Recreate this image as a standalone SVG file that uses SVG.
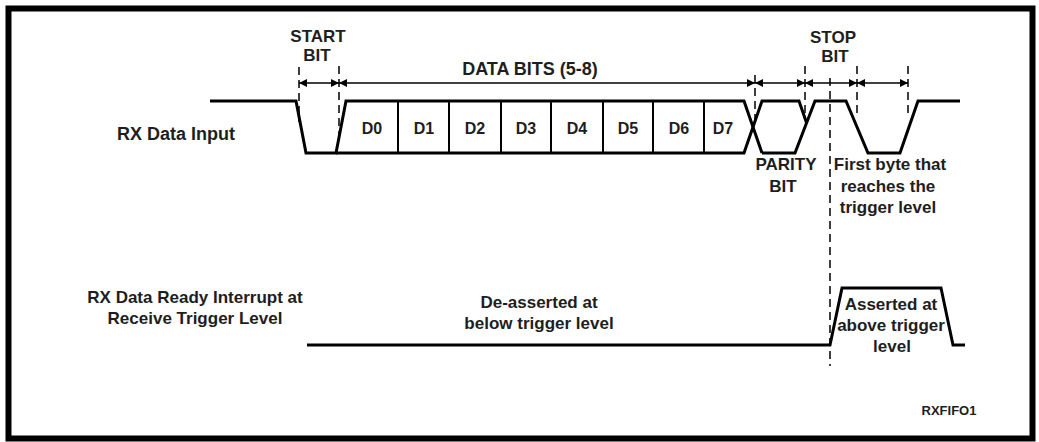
<svg xmlns="http://www.w3.org/2000/svg" width="1039" height="442" viewBox="0 0 1039 442">
<style>
text{font-family:"Liberation Sans",Arial,sans-serif;font-weight:bold;fill:#1e1e1e;font-size:17px}
.m{text-anchor:middle}
.sig{fill:none;stroke:#000;stroke-width:3;stroke-linejoin:miter}
.div{stroke:#000;stroke-width:2}
.dim{stroke:#000;stroke-width:1.5;fill:none}
.ext{stroke:#000;stroke-width:1.5;stroke-dasharray:8,5;fill:none}
</style>
<defs>
<marker id="ah" viewBox="0 0 10 10" refX="10" refY="5" markerWidth="9" markerHeight="8" markerUnits="userSpaceOnUse" orient="auto-start-reverse">
<path d="M0,0 L10,5 L0,10 Z" fill="#000"/>
</marker>
</defs>
<rect x="8.5" y="8.5" width="1024" height="430" fill="#fff" stroke="#000" stroke-width="6"/>

<g id="labels">
<text x="117" y="140" style="font-size:18px">RX Data Input</text>
<text class="m" x="195" y="303">RX Data Ready Interrupt at</text>
<text class="m" x="195" y="324">Receive Trigger Level</text>
</g>

<g id="rx-data">
<path class="sig" d="M210,101 H296 L306,153 H336 L346,101 H744 L762,153"/>
<path class="sig" d="M336,153 H744 L762,101 H799 L806.6,123"/>
<path class="sig" d="M762,153 H795 L815,101 H846 L868,153 H900 L918,101 H960"/>
<line class="div" x1="398" y1="101" x2="398" y2="153"/>
<line class="div" x1="449" y1="101" x2="449" y2="153"/>
<line class="div" x1="501" y1="101" x2="501" y2="153"/>
<line class="div" x1="551" y1="101" x2="551" y2="153"/>
<line class="div" x1="603" y1="101" x2="603" y2="153"/>
<line class="div" x1="653" y1="101" x2="653" y2="153"/>
<line class="div" x1="704" y1="101" x2="704" y2="153"/>
<text class="m" x="372" y="134" style="font-size:16px">D0</text>
<text class="m" x="424" y="134" style="font-size:16px">D1</text>
<text class="m" x="475" y="134" style="font-size:16px">D2</text>
<text class="m" x="526" y="134" style="font-size:16px">D3</text>
<text class="m" x="577" y="134" style="font-size:16px">D4</text>
<text class="m" x="628" y="134" style="font-size:16px">D5</text>
<text class="m" x="679" y="134" style="font-size:16px">D6</text>
<text class="m" x="723" y="134" style="font-size:16px">D7</text>
</g>

<g id="interrupt">
<path class="sig" d="M307,345 H830 L842,288 H941 L953,345 H965"/>
<text class="m" x="539" y="308">De-asserted at</text>
<text class="m" x="539" y="329">below trigger level</text>
<text class="m" x="891" y="310">Asserted at</text>
<text class="m" x="891" y="331">above trigger</text>
<text class="m" x="892" y="352">level</text>
</g>

<g id="bit-labels">
<text class="m" x="318" y="42">START</text>
<text class="m" x="317" y="61">BIT</text>
<text class="m" x="530" y="75" style="font-size:18px">DATA BITS (5-8)</text>
<text class="m" x="833" y="43">STOP</text>
<text class="m" x="835" y="62">BIT</text>
<text class="m" x="786" y="170">PARITY</text>
<text class="m" x="783" y="192">BIT</text>
<text class="m" x="890" y="170">First byte that</text>
<text class="m" x="888" y="192">reaches the</text>
<text class="m" x="888" y="213">trigger level</text>
<text class="m" x="949" y="415" style="font-size:13px">RXFIFO1</text>
</g>

<g id="connectors">
<line class="ext" x1="299" y1="67" x2="299" y2="122"/>
<line class="ext" x1="339" y1="66" x2="339" y2="142"/>
<line class="ext" x1="755" y1="75" x2="755" y2="122"/>
<line class="ext" x1="805" y1="66" x2="805" y2="116"/>
<line class="ext" x1="857" y1="66" x2="857" y2="118"/>
<line class="ext" x1="908" y1="66" x2="908" y2="114"/>
<line class="ext" x1="830" y1="78" x2="830" y2="366"/>
<line class="dim" x1="299" y1="83" x2="339" y2="83" marker-start="url(#ah)" marker-end="url(#ah)"/>
<line class="dim" x1="339" y1="83" x2="755" y2="83" marker-start="url(#ah)" marker-end="url(#ah)"/>
<line class="dim" x1="755" y1="83" x2="805" y2="83" marker-start="url(#ah)" marker-end="url(#ah)"/>
<line class="dim" x1="805" y1="83" x2="857" y2="83" marker-start="url(#ah)" marker-end="url(#ah)"/>
<line class="dim" x1="857" y1="83" x2="908" y2="83" marker-start="url(#ah)" marker-end="url(#ah)"/>
</g>
</svg>
